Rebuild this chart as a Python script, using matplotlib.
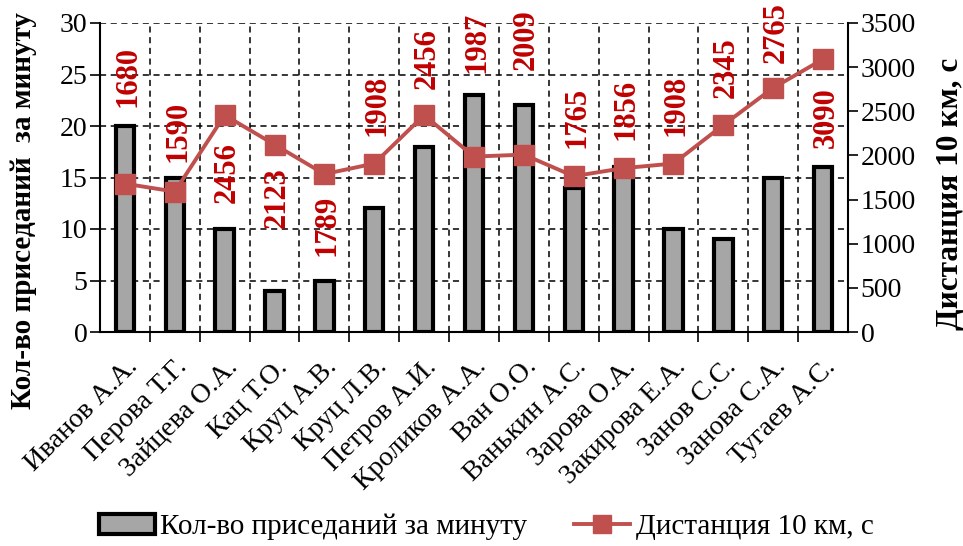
import numpy as np
import matplotlib.pyplot as plt
from matplotlib.lines import Line2D
from matplotlib.patches import Patch

plt.rcParams['font.family'] = ['Liberation Serif', 'DejaVu Serif']

names = ['Иванов А.А.', 'Перова Т.Г.', 'Зайцева О.А.', 'Кац Т.О.', 'Круц А.В.',
         'Круц Л.В.', 'Петров А.И.', 'Кроликов А.А.', 'Ван О.О.', 'Ванькин А.С.',
         'Зарова О.А.', 'Закирова Е.А.', 'Занов С.С.', 'Занова С.А.', 'Тугаев А.С.']
squats = [20, 15, 10, 4, 5, 12, 18, 23, 22, 14, 16, 10, 9, 15, 16]
distance = [1680, 1590, 2456, 2123, 1789, 1908, 2456, 1987, 2009, 1765,
            1856, 1908, 2345, 2765, 3090]
# label offsets from marker, in points (positive = up)
label_dy = [77, 43, -41, -38, -37, 42, 41, 82, 83, 42, 42, 42, 41, 40, -42]

bar_col = '#A6A6A6'
line_col = '#C0504D'
lab_col = '#C00000'

fig = plt.figure(figsize=(9.63, 5.46), dpi=100)
ax = fig.add_axes([100 / 963, 1 - 332 / 546, 748 / 963, 309 / 546])
X = np.arange(len(names))

ax.bar(X, squats, width=0.37, color=bar_col, edgecolor='black', linewidth=3.0, zorder=3)
ax.set_xlim(-0.5, len(names) - 0.5)
ax.set_ylim(0, 30)
ax.set_yticks(np.arange(0, 31, 5))
ax.set_xticks(X)
ax.set_xticklabels(names, rotation=45, ha='right', rotation_mode='anchor')
ax.set_xticks(X[:-1] + 0.5, minor=True)
ax.tick_params(axis='x', which='major', length=0, labelsize=20, pad=16)
ax.tick_params(axis='x', which='minor', length=7, width=1.2, direction='out')
ax.tick_params(axis='y', labelsize=20, length=7, width=1.2, direction='out', pad=2)
ax.grid(axis='y', linestyle=(0, (4, 3)), color='black', linewidth=1.1, zorder=0)
ax.grid(axis='x', which='minor', linestyle=(0, (4, 3)), color='black', linewidth=1.1, zorder=0)
ax.spines['top'].set_visible(False)
ax.spines['left'].set_linewidth(1.5)
ax.spines['bottom'].set_linewidth(1.5)
ax.spines['right'].set_visible(False)

ax2 = ax.twinx()
ax2.plot(X, distance, color=line_col, linewidth=2.8, marker='s', markersize=14, zorder=4)
ax2.set_ylim(0, 3500)
ax2.set_yticks(np.arange(0, 3501, 500))
ax2.tick_params(axis='y', labelsize=20, length=7, width=1.2, direction='out', pad=2)
ax2.spines['top'].set_visible(False)
ax2.spines['left'].set_visible(False)
ax2.spines['bottom'].set_visible(False)
ax2.spines['right'].set_linewidth(1.5)

for x, d, dy in zip(X, distance, label_dy):
    ax2.annotate(str(d), (x, d), xytext=(2, dy), textcoords='offset points',
                 rotation=90, ha='center', va='center', color=lab_col,
                 fontsize=22, fontweight='bold', zorder=5)

fig.text(24 / 963, 1 - 211 / 546, 'Кол-во приседаний  за минуту', rotation=90,
         ha='center', va='center', fontsize=21, fontweight='bold')
fig.text(950 / 963, 1 - 194 / 546, 'Дистанция 10 км, с', rotation=90,
         ha='center', va='center', fontsize=22.5, fontweight='bold')

handles = [Patch(facecolor=bar_col, edgecolor='black', linewidth=3.0),
           Line2D([], [], color=line_col, linewidth=2.8, marker='s', markersize=13)]
fig.legend(handles, ['Кол-во приседаний за минуту', 'Дистанция 10 км, с'],
           loc='center', bbox_to_anchor=(0.505, 1 - 527 / 546), ncol=2, frameon=False,
           fontsize=21, handlelength=1.9, handletextpad=0.2, columnspacing=1.6)

plt.savefig('out.png', dpi=100)
